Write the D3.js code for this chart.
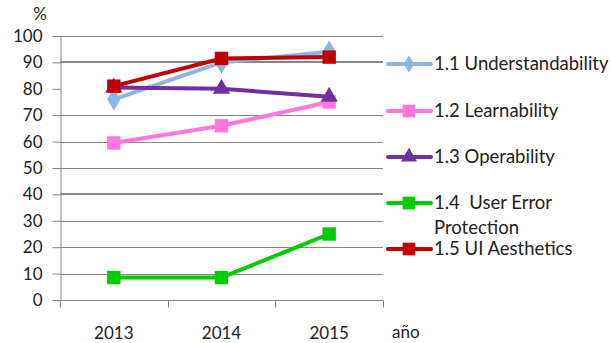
<!DOCTYPE html>
<html><head><meta charset="utf-8">
<script src="https://cdn.jsdelivr.net/npm/d3@7"></script>
<style>
html,body{margin:0;padding:0;background:#fff;}
svg{display:block;font-family:Lato,"Open Sans",sans-serif;}
</style></head>
<body><svg id="c" width="611" height="343"></svg>
<script>
const years = ["2013", "2014", "2015"];
const yTicks = [0, 10, 20, 30, 40, 50, 60, 70, 80, 90, 100];
const seriesNames = ["1.1 Understandability", "1.2 Learnability", "1.3 Operability", "1.4  User Error|Protection", "1.5 UI Aesthetics"];
const understandability = [76, 90, 94];
const learnability = [59.5, 66, 75];
const operability = [80.5, 80, 77];
const userErrorProtection = [8.5, 8.5, 25];
const uiAesthetics = [81, 91.5, 92];
const seriesValues = [understandability, learnability, operability, userErrorProtection, uiAesthetics];
const seriesColors = ["#8db4e3", "#ff77dd", "#7030a0", "#00cc00", "#c00000"];
const seriesSymbols = [d3.symbolDiamond, d3.symbolSquare, d3.symbolTriangle, d3.symbolSquare, d3.symbolSquare];
const symbolSizes = [150, 180, 130, 180, 180];
const legendSymbolSizes = [90, 160, 110, 160, 160];

const svg = d3.select("#c");
const pLeft = 60, pRight = 383, pTop = 36, pBottom = 300;
const x = d3.scaleBand().domain(years).range([pLeft, pRight]);
const y = d3.scaleLinear().domain([0, 100]).range([pBottom, pTop]);

// gridlines
const gridG = svg.append("g");
yTicks.filter(t => t !== 0 && t !== 80).forEach(t => {
  const thick = (t === 90 || t === 40);
  const yy = Math.round(y(t)) + (thick ? 0 : 0.5);
  gridG.append("line")
    .attr("x1", pLeft).attr("x2", pRight)
    .attr("y1", yy).attr("y2", yy)
    .attr("stroke", "#868686").attr("stroke-width", thick ? 2 : 1);
});

// y axis
const yAxis = svg.append("g").attr("transform", `translate(${pLeft + 0.5},0)`)
  .call(d3.axisLeft(y).tickValues(yTicks).tickSize(8).tickPadding(10).tickSizeOuter(0));
yAxis.select(".domain").attr("stroke", "#868686");
yAxis.selectAll(".tick line").attr("stroke", "#868686");
yAxis.selectAll(".tick text").attr("font-size", 17).attr("fill", "#222").attr("font-family", "Lato");

// x axis
const xAxis = svg.append("g").attr("transform", `translate(0,${pBottom + 0.5})`);
xAxis.append("line").attr("x1", pLeft).attr("x2", pRight).attr("stroke", "#868686");
const bounds = years.map(d => x(d)).concat([pRight]);
xAxis.selectAll("line.tk").data(bounds).join("line").attr("class", "tk")
  .attr("x1", d => Math.round(d) + 0.5).attr("x2", d => Math.round(d) + 0.5)
  .attr("y1", 0).attr("y2", 7).attr("stroke", "#868686");
xAxis.selectAll("text").data(years).join("text")
  .attr("x", d => x(d) + x.bandwidth() / 2).attr("y", 38)
  .attr("text-anchor", "middle").attr("font-size", 17).attr("fill", "#222").text(d => d);

svg.append("text").attr("x", 40).attr("y", 20).attr("text-anchor", "middle")
  .attr("font-size", 17).attr("fill", "#222").text("%");
svg.append("text").attr("x", 392).attr("y", 338)
  .attr("font-size", 17).attr("fill", "#222").text("año");

// series
const line = d3.line().x((d, i) => x(years[i]) + x.bandwidth() / 2).y(d => y(d));
seriesValues.forEach((vals, s) => {
  const g = svg.append("g");
  g.append("path").datum(vals).attr("d", line).attr("fill", "none")
    .attr("stroke", seriesColors[s]).attr("stroke-width", 4);
  g.selectAll("path.m").data(vals).join("path").attr("class", "m")
    .attr("d", d3.symbol().type(seriesSymbols[s]).size(symbolSizes[s]))
    .attr("transform", (d, i) => `translate(${x(years[i]) + x.bandwidth() / 2},${y(d)})`)
    .attr("fill", seriesColors[s]);
});

// legend
const legY = [64, 111, 157, 203, 249];
seriesNames.forEach((name, s) => {
  const g = svg.append("g").attr("transform", `translate(0,${legY[s]})`);
  g.append("line").attr("x1", 388).attr("x2", 431).attr("y1", 0).attr("y2", 0)
    .attr("stroke", seriesColors[s]).attr("stroke-width", 4).attr("stroke-linecap", "round");
  g.append("path").attr("d", d3.symbol().type(seriesSymbols[s]).size(legendSymbolSizes[s]))
    .attr("transform", "translate(409,0)").attr("fill", seriesColors[s]);
  const parts = name.split("|");
  parts.forEach((p, k) => {
    g.append("text").attr("x", 434).attr("y", 6 + k * 25)
      .attr("font-size", 18.5).attr("fill", "#222")
      .style("white-space", "pre").text(p);
  });
});
</script></body></html>
